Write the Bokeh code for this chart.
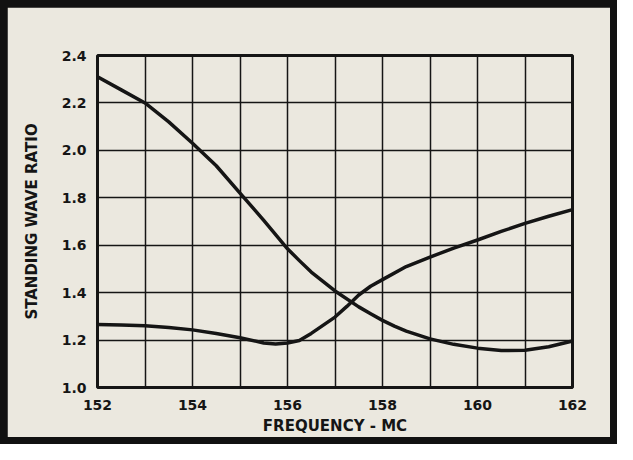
from bokeh.plotting import figure
from bokeh.layouts import column
from bokeh.models import FixedTicker, Range1d
from bokeh.embed import file_html
from bokeh.resources import INLINE

# Data
freq_a = [152, 152.5, 153, 153.5, 154, 154.5, 155, 155.5, 156, 156.25, 156.5, 157, 157.5,
          157.75, 158, 158.25, 158.5, 159, 159.5, 160, 160.5, 161, 161.5, 162]
swr_a = [2.31, 2.255, 2.20, 2.12, 2.03, 1.935, 1.82, 1.705, 1.585, 1.535, 1.487, 1.407, 1.34,
         1.311, 1.283, 1.259, 1.238, 1.205, 1.182, 1.166, 1.156, 1.157, 1.172, 1.196]

freq_b = [152, 152.5, 153, 153.5, 154, 154.5, 155, 155.5, 155.75, 156, 156.25, 156.5,
          157, 157.25, 157.5, 157.75, 158, 158.5, 159, 159.5, 160, 160.5, 161, 161.5, 162]
swr_b = [1.266, 1.264, 1.26, 1.253, 1.243, 1.228, 1.21, 1.188, 1.183, 1.188, 1.198, 1.228,
         1.297, 1.342, 1.39, 1.427, 1.455, 1.51, 1.55, 1.588, 1.622, 1.658, 1.692, 1.722, 1.75]

x_ticks = [152, 154, 156, 158, 160, 162]
x_grid = [152, 153, 154, 155, 156, 157, 158, 159, 160, 161, 162]
y_ticks = [1.0, 1.2, 1.4, 1.6, 1.8, 2.0, 2.2, 2.4]
y_labels = ["1.0", "1.2", "1.4", "1.6", "1.8", "2.0", "2.2", "2.4"]

PAPER = "#ebe8df"
INK = "#151515"
FONT = "DejaVu Sans"

p = figure(width=603, height=430, output_backend="svg", toolbar_location=None,
           x_range=Range1d(152, 162), y_range=Range1d(1.0, 2.4),
           min_border_left=90, min_border_right=38, min_border_top=48, min_border_bottom=45,
           background_fill_color=PAPER, border_fill_color=PAPER)

p.outline_line_color = INK
p.outline_line_width = 3

p.xgrid.ticker = FixedTicker(ticks=x_grid)
p.ygrid.ticker = FixedTicker(ticks=y_ticks)
for g in (p.xgrid, p.ygrid):
    g.grid_line_color = INK
    g.grid_line_width = 1.5
    g.grid_line_alpha = 1.0

p.xaxis.ticker = FixedTicker(ticks=x_ticks)
p.yaxis.ticker = FixedTicker(ticks=y_ticks)
p.yaxis.major_label_overrides = {t: l for t, l in zip(y_ticks, y_labels)}
p.xaxis.major_label_overrides = {t: str(t) for t in x_ticks}

for ax in (p.xaxis, p.yaxis):
    ax.axis_line_color = None
    ax.major_tick_line_color = None
    ax.minor_tick_line_color = None
    ax.major_label_text_font = FONT
    ax.major_label_text_font_style = "bold"
    ax.major_label_text_font_size = "14px"
    ax.major_label_text_color = INK
    ax.axis_label_text_font = FONT
    ax.axis_label_text_font_style = "bold"
    ax.axis_label_text_font_size = "15px"
    ax.axis_label_text_color = INK

p.xaxis.major_label_standoff = 6
p.yaxis.major_label_standoff = 5
p.xaxis.axis_label = "FREQUENCY - MC"
p.yaxis.axis_label = "STANDING WAVE RATIO"
p.xaxis.axis_label_standoff = 4
p.yaxis.axis_label_standoff = 18

p.line(freq_a, swr_a, line_color=INK, line_width=3.5, line_join="round")
p.line(freq_b, swr_b, line_color=INK, line_width=3.5, line_join="round")

layout = column(p, styles={"background-color": "#111111", "padding": "7px"})

open("out.html", "w").write(file_html(layout, INLINE))
